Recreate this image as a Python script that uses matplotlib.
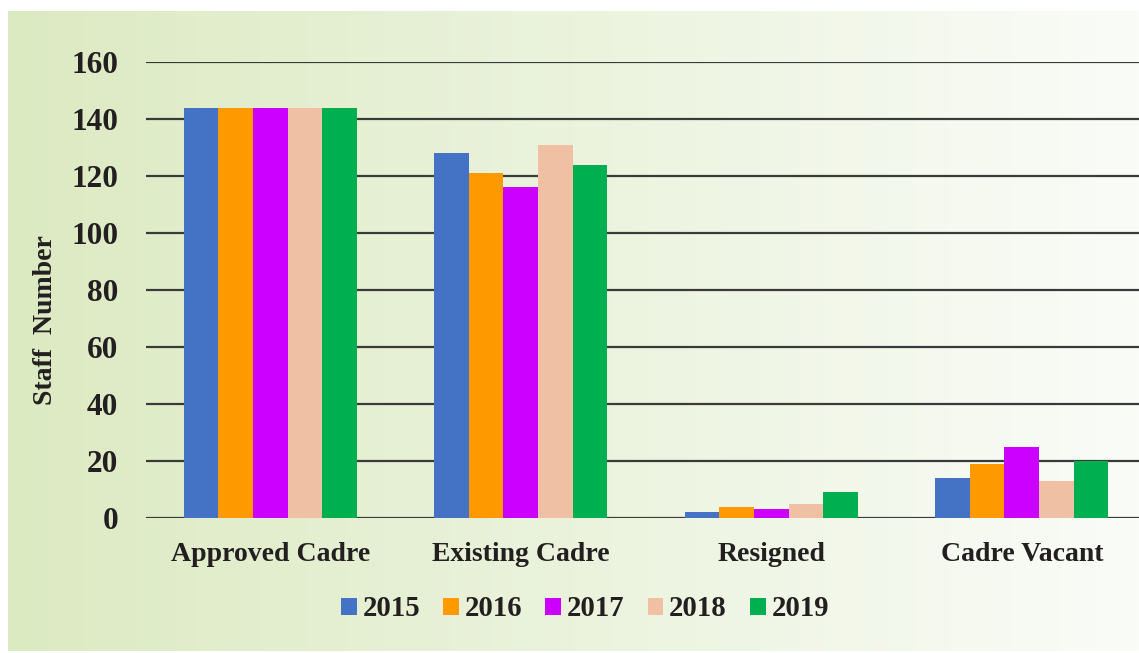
import matplotlib.pyplot as plt
import numpy as np

plt.rcParams['font.family'] = ['Liberation Serif', 'DejaVu Serif']
plt.rcParams['font.weight'] = 'bold'

categories = ['Approved Cadre', 'Existing Cadre', 'Resigned', 'Cadre Vacant']
years = ['2015', '2016', '2017', '2018', '2019']
v2015 = [144, 128, 2, 14]
v2016 = [144, 121, 4, 19]
v2017 = [144, 116, 3, 25]
v2018 = [144, 131, 5, 13]
v2019 = [144, 124, 9, 20]
colors = ['#4472c4', '#ff9900', '#cc00ff', '#f0c0a4', '#00b050']
yticks = [0, 20, 40, 60, 80, 100, 120, 140, 160]

series = [v2015, v2016, v2017, v2018, v2019]
text_color = '#231f20'

fig = plt.figure(figsize=(11.39, 6.53), dpi=100)

# gradient panel behind the chart
bg = fig.add_axes([8 / 1139, 1 - 651 / 653, 1 - 8 / 1139, (651 - 11) / 653])
grad = np.linspace(0, 1, 256).reshape(1, -1)
left_c = np.array([220, 234, 194]) / 255
right_c = np.array([250, 252, 248]) / 255
img = left_c[None, None, :] * (1 - grad[..., None]) + right_c[None, None, :] * grad[..., None]
bg.imshow(img, aspect='auto', extent=[0, 1, 0, 1])
bg.axis('off')

ax = fig.add_axes([146 / 1139, 135 / 653, 1 - 146 / 1139, 456 / 653])
ax.patch.set_alpha(0)

x = np.arange(len(categories))
w = 0.138
for i, (vals, c) in enumerate(zip(series, colors)):
    ax.bar(x + (i - 2) * w, vals, w, color=c, label=years[i], zorder=3)

ax.set_ylim(0, 160)
ax.set_xlim(-0.496, 3.468)
ax.set_yticks(yticks)
for t in yticks:
    ax.axhline(t, color='#3a3a3a', lw=1.6, zorder=2)

for s in ax.spines.values():
    s.set_visible(False)
ax.tick_params(axis='both', length=0, colors=text_color)
ax.tick_params(axis='y', labelsize=22.5, pad=20)
ax.tick_params(axis='x', labelsize=20, pad=17)
ax.set_xticks(x)
ax.set_xticklabels(categories)
for lab in ax.get_xticklabels() + ax.get_yticklabels():
    lab.set_fontweight('bold')

fig.text(46 / 1139, 1 - 320 / 653, 'Staff  Number', rotation=90, ha='center', va='center',
         fontsize=20, fontweight='bold', color=text_color)

leg = fig.legend(loc='center', bbox_to_anchor=(585 / 1139, 1 - 609 / 653), ncol=5,
                 frameon=False, handlelength=0.55, handleheight=0.55, handletextpad=0.2,
                 columnspacing=0.8, prop={'size': 20.7, 'weight': 'bold'})
for t in leg.get_texts():
    t.set_color(text_color)

fig.savefig('out.png', dpi=100, facecolor='white')
